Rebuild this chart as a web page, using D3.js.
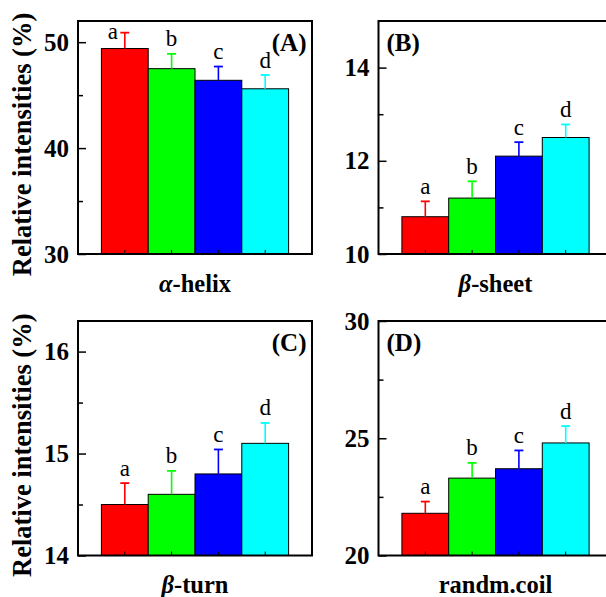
<!DOCTYPE html>
<html>
<head>
<meta charset="utf-8">
<script src="https://cdn.jsdelivr.net/npm/d3@7"></script>
<style>
  html, body { margin: 0; padding: 0; background: #fff; }
  svg { display: block; }
</style>
</head>
<body>
<svg id="chart" width="606" height="597" font-family="Liberation Serif"></svg>
<script>
// Secondary-structure fractions for four samples (a–d), with standard deviations
const groups = ["a", "b", "c", "d"];
const colors = ["#ff0000", "#00ff00", "#0000ff", "#00ffff"];

const helixValues = [49.4, 47.5, 46.4, 45.6];
const helixErrors = [1.5, 1.4, 1.3, 1.3];

const sheetValues = [10.8, 11.2, 12.1, 12.5];
const sheetErrors = [0.33, 0.36, 0.3, 0.28];

const turnValues = [14.5, 14.6, 14.8, 15.1];
const turnErrors = [0.21, 0.23, 0.24, 0.2];

const coilValues = [21.8, 23.3, 23.7, 24.8];
const coilErrors = [0.5, 0.65, 0.78, 0.72];

const helixTicks = [30, 40, 50], helixMinor = [35, 45];
const sheetTicks = [10, 12, 14], sheetMinor = [11, 13];
const turnTicks = [14, 15, 16], turnMinor = [14.5, 15.5];
const coilTicks = [20, 25, 30], coilMinor = [22.5, 27.5];

const yTitle = "Relative intensities (%)";
const FONT = "Liberation Serif";

const panels = [
  { tag: "(A)", greek: "α", name: "-helix", values: helixValues, errors: helixErrors,
    domain: [30, 52], ticks: helixTicks, minor: helixMinor,
    x: 78, y: 21, w: 234, h: 233, tagRight: true, showTitle: true },
  { tag: "(B)", greek: "β", name: "-sheet", values: sheetValues, errors: sheetErrors,
    domain: [10, 15], ticks: sheetTicks, minor: sheetMinor,
    x: 378.5, y: 21, w: 234, h: 233, tagRight: false, showTitle: false },
  { tag: "(C)", greek: "β", name: "-turn", values: turnValues, errors: turnErrors,
    domain: [14, 16.3], ticks: turnTicks, minor: turnMinor,
    x: 78, y: 321, w: 234, h: 234.5, tagRight: true, showTitle: true },
  { tag: "(D)", greek: "", name: "randm.coil", values: coilValues, errors: coilErrors,
    domain: [20, 30], ticks: coilTicks, minor: coilMinor,
    x: 378.5, y: 321, w: 234, h: 234.5, tagRight: false, showTitle: false }
];

const svg = d3.select("#chart");

panels.forEach(p => {
  const g = svg.append("g").attr("transform", `translate(${p.x},${p.y})`);

  const x = d3.scaleBand().domain(groups).range([0, p.w]).paddingInner(0).paddingOuter(0.5);
  const y = d3.scaleLinear().domain(p.domain).range([p.h, 0]);

  const rows = groups.map((k, i) => ({ k, v: p.values[i], e: p.errors[i], c: colors[i] }));

  // bars
  g.selectAll("rect.bar").data(rows).join("rect")
    .attr("class", "bar")
    .attr("x", d => x(d.k))
    .attr("y", d => y(d.v))
    .attr("width", x.bandwidth())
    .attr("height", d => p.h - y(d.v))
    .attr("fill", d => d.c)
    .attr("stroke", "#000")
    .attr("stroke-width", 1);

  // upper error bars
  const cx = d => x(d.k) + x.bandwidth() / 2;
  g.selectAll("line.err").data(rows).join("line")
    .attr("class", "err")
    .attr("x1", cx).attr("x2", cx)
    .attr("y1", d => y(d.v)).attr("y2", d => y(d.v + d.e))
    .attr("stroke", d => d.c).attr("stroke-width", 1.6);
  g.selectAll("line.cap").data(rows).join("line")
    .attr("class", "cap")
    .attr("x1", d => cx(d) - 4.5).attr("x2", d => cx(d) + 4.5)
    .attr("y1", d => y(d.v + d.e)).attr("y2", d => y(d.v + d.e))
    .attr("stroke", d => d.c).attr("stroke-width", 1.8);

  // significance letters above the error bars (moved aside when they would hit the frame)
  g.selectAll("text.sig").data(rows).join("text")
    .attr("class", "sig")
    .attr("text-anchor", "middle")
    .attr("font-family", FONT)
    .attr("font-size", 23)
    .each(function (d) {
      let ty = y(d.v + d.e) - 7.5;
      let tx = cx(d);
      if (ty - 15 < 2) { ty = 17.5; tx = cx(d) - 12; }
      d3.select(this).attr("x", tx).attr("y", ty);
    })
    .text(d => d.k);

  // frame
  g.append("rect")
    .attr("x", 0).attr("y", 0).attr("width", p.w).attr("height", p.h)
    .attr("fill", "none").attr("stroke", "#000").attr("stroke-width", 2);

  // y axis: inward ticks
  const yAxis = d3.axisRight(y).tickValues(p.ticks).tickSize(8).tickFormat("");
  const ya = g.append("g").call(yAxis);
  ya.select(".domain").remove();
  ya.selectAll("line").attr("stroke-width", 1.5);
  const yMinor = d3.axisRight(y).tickValues(p.minor).tickSize(5).tickFormat("");
  const ym = g.append("g").call(yMinor);
  ym.select(".domain").remove();
  ym.selectAll("line").attr("stroke-width", 1.5);

  g.selectAll("text.ytick").data(p.ticks).join("text")
    .attr("class", "ytick")
    .attr("x", -9)
    .attr("y", d => y(d))
    .attr("dy", "0.34em")
    .attr("text-anchor", "end")
    .attr("font-family", FONT)
    .attr("font-size", 25)
    .attr("font-weight", "bold")
    .text(d => d);

  // x axis: short inward ticks at bar centres
  const xAxis = d3.axisTop(x).tickSize(4).tickFormat("");
  const xa = g.append("g").attr("transform", `translate(0,${p.h})`).call(xAxis);
  xa.select(".domain").remove();
  xa.selectAll("line").attr("stroke-width", 1);

  // panel tag
  g.append("text")
    .attr("x", p.tagRight ? p.w - 5.5 : 8)
    .attr("y", 29.5)
    .attr("text-anchor", p.tagRight ? "end" : "start")
    .attr("font-family", FONT)
    .attr("font-size", 25)
    .attr("font-weight", "bold")
    .text(p.tag);

  // category label
  const lab = g.append("text")
    .attr("x", p.w / 2)
    .attr("y", p.h + 37.5)
    .attr("text-anchor", "middle")
    .attr("font-family", FONT)
    .attr("font-size", 24.5)
    .attr("font-weight", "bold");
  if (p.greek) lab.append("tspan").attr("font-style", "italic").text(p.greek);
  lab.append("tspan").text(p.name);

  // y title
  if (p.showTitle) {
    svg.append("text")
      .attr("transform", `translate(31,${p.y + p.h / 2 + 7}) rotate(-90)`)
      .attr("text-anchor", "middle")
      .attr("font-family", FONT)
      .attr("font-size", 26.5)
      .attr("font-weight", "bold")
      .text(yTitle);
  }
});
</script>
</body>
</html>
